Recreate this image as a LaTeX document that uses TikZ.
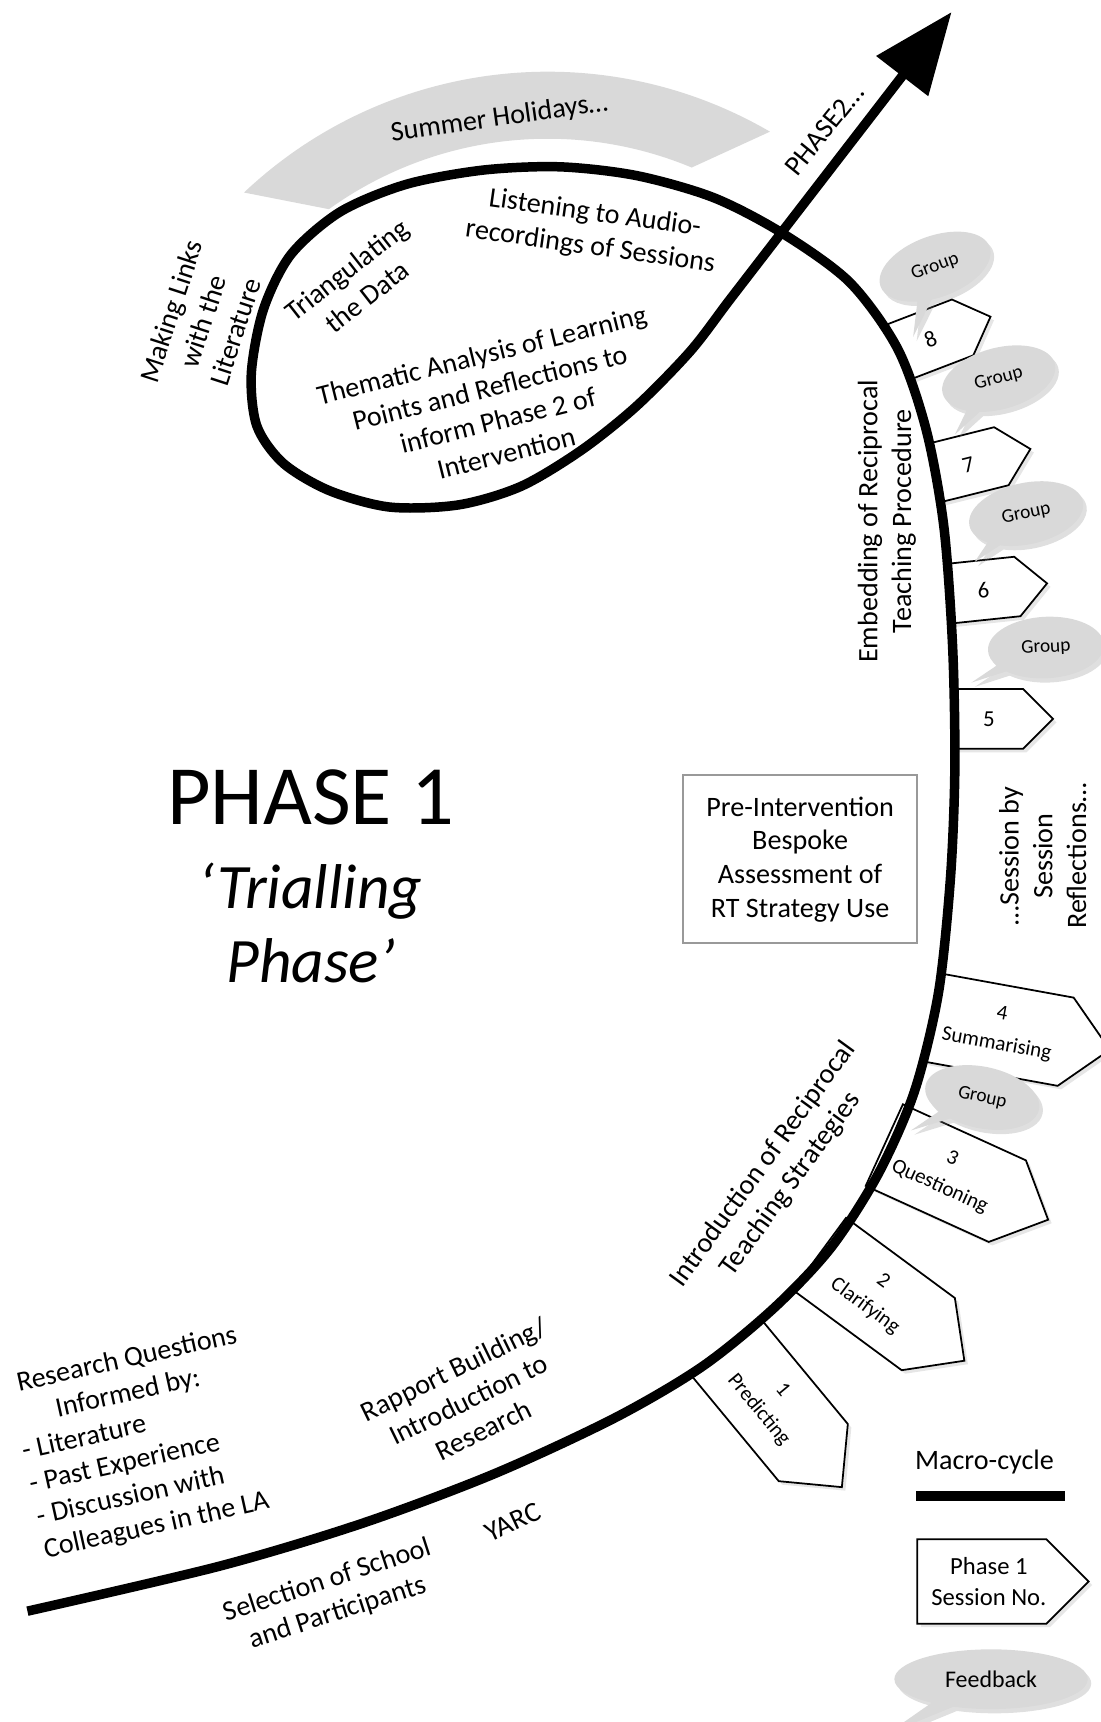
\documentclass[tikz,border=0pt]{standalone}
\usepackage{fontspec}
\setmainfont{Carlito}
\usetikzlibrary{arrows.meta, calc, shapes.symbols, shapes.callouts, shadows}

\begin{document}
\begin{tikzpicture}[x=0.010977cm, y=0.010977cm, node distance=1.25cm,
  macro/.style={line width=2.7pt},
  lbl/.style={font=\fontsize{8}{9.6}\selectfont, align=center, inner sep=0pt},
  session/.style={draw, line width=0.5pt, fill=white, shape=signal, signal to=east,
    signal pointer angle=90, inner sep=0pt, anchor=west, align=center,
    drop shadow={opacity=0.2, shadow xshift=1pt, shadow yshift=-1pt}},
  early/.style={session, minimum width=51.2pt, minimum height=25.5pt, font=\fontsize{6}{8.7}\selectfont},
  late/.style={session, minimum width=28pt, minimum height=17pt, font=\fontsize{6.5}{8}\selectfont},
  bubble/.style={ellipse callout, fill=black!15, inner sep=0pt, minimum width=33pt, minimum height=17.5pt,
    font=\fontsize{5.5}{6}\selectfont, drop shadow={opacity=0.25, shadow xshift=1pt, shadow yshift=-1.2pt}}]

\useasboundingbox (0,0) rectangle (1003,-1569);

% the summer holidays band
\coordinate (bandc) at (499,-468);
\fill[black!15] ($(bandc)+(133.4:402.7)$) arc[start angle=133.4, end angle=59.8, radius=402.7]
  -- ($(bandc)+(67.4:341.6)$) arc[start angle=67.4, end angle=125.7, radius=341.6] -- cycle;

% define the sessions
  \node[early, rotate=-50.4] (s1) at (662,-1228) {1\\Predicting};
  \node[early, rotate=-36.4] (s2) at (746,-1142) {2\\Clarifying};
  \node[early, rotate=-24.5] (s3) at (805,-1043) {3\\Questioning};
  \node[early, rotate=-10.3] (s4) at (849,-927)  {4\\Summarising};
  \node[late]                (s5) at (869,-655)  {5};
  \node[late, rotate=6]      (s6) at (864,-541)  {6};
  \node[late, rotate=14]     (s7) at (851,-431)  {7};
  \node[late, rotate=21]     (s8) at (818,-321)  {8};

% define the group feedback
  \node[bubble, rotate=20, callout absolute pointer={(832,-307)}]  (g8) at (852,-243)  {Group};
  \node[bubble, rotate=15, callout absolute pointer={(870,-396)}]  (g7) at (910,-345)  {Group};
  \node[bubble, rotate=12, callout absolute pointer={(888,-512)}]  (g6) at (935,-468)  {Group};
  \node[bubble, rotate=3,  callout absolute pointer={(885,-622)}]  (g5) at (953,-590)  {Group};
  \node[bubble, rotate=-12, callout absolute pointer={(830,-1030)}] (g3) at (895,-1000) {Group};

% the macro-cycle
  \draw[macro, -{Triangle[length=23pt, width=18pt]}] plot[smooth, tension=0.5] coordinates {
    (25,-1468) (200,-1427) (330,-1388) (450,-1343) (560,-1292) (640,-1245)
    (705,-1192) (757,-1137) (800,-1070) (833,-995) (855,-905) (866,-800)
    (870,-700) (868,-590) (860,-480) (844,-392) (818,-318) (774,-257)
    (712,-212) (650,-180) (580,-160) (510,-152) (440,-155) (370,-168)
    (310,-193) (265,-232) (240,-282) (229,-340) (234,-388) (258,-422)
    (300,-447) (355,-462) (418,-460) (475,-443) (530,-410) (580,-370)
    (629,-320) (665,-273) (712,-212) (867,-11)};

% define the labels
  \node[lbl, rotate=8]    (summer)  at (455,-108)  {Summer Holidays…};
  \node[lbl, rotate=51]   (phase2)  at (751,-118)  {PHASE2…};
  \node[lbl, rotate=72]   (links)   at (185,-293)  {Making Links\\with the\\Literature};
  \node[lbl, rotate=38]   (triang)  at (325,-258)  {Triangulating\\the Data};
  \node[lbl, rotate=-8]   (listen)  at (540,-210)  {Listening to Audio-\\recordings of Sessions};
  \node[lbl, rotate=14]   (themes)  at (450,-368)  {Thematic Analysis of Learning\\Points and Reflections to\\inform Phase 2 of\\Intervention};
  \node[lbl, rotate=90]   (embed)   at (808,-475)  {Embedding of Reciprocal\\Teaching Procedure};
  \node[font=\fontsize{24}{28}\selectfont] (phase) at (283,-727) {PHASE 1};
  \node[font=\itshape\fontsize{18}{21}\selectfont, align=center] (trial) [below of=phase] {‘Trialling\\Phase’};
  \node[lbl, draw=black!40, line width=0.6pt, minimum width=66.5pt, minimum height=47.8pt]
                          (preint)  at (729,-783)  {Pre-Intervention\\Bespoke\\Assessment of\\RT Strategy Use};
  \node[lbl, rotate=90]   (reflect) at (950,-780)  {…Session by\\Session\\Reflections…};
  \node[lbl, rotate=54]   (intro)   at (708,-1070) {Introduction of Reciprocal\\Teaching Strategies};
  \node[lbl, rotate=12.5, align=left] (rq) at (128,-1315)
    {\hspace{0.35em}Research Questions\\\hspace{1.5em}Informed by:\\- Literature\\- Past Experience\\- Discussion with\\Colleagues in the LA};
  \node[lbl, rotate=26]   (rapport) at (427,-1275) {Rapport Building/\\Introduction to\\Research};
  \node[lbl, rotate=18]   (select)  at (303,-1455) {Selection of School\\and Participants};
  \node[lbl, rotate=25]   (yarc)    at (467,-1387) {YARC};

% the key
  \node[lbl] (macrokey) at (897,-1332) {Macro-cycle};
  \coordinate (keya) at (835,-1363);
  \coordinate (keyb) at (970,-1363);
  \draw[line width=3pt] (keya) -- (keyb);
  \node[session, minimum width=48.4pt, minimum height=24pt, font=\fontsize{7}{8.6}\selectfont]
    (sessionkey) at (835,-1441) {\hspace*{4pt}Phase 1\\\hspace*{4pt}Session No.};
  \node[bubble, minimum width=55pt, minimum height=17pt, font=\fontsize{6.8}{8}\selectfont,
    callout absolute pointer={(808,-1580)}] (feedbackkey) at (903,-1530) {Feedback};
\end{tikzpicture}
\end{document}
